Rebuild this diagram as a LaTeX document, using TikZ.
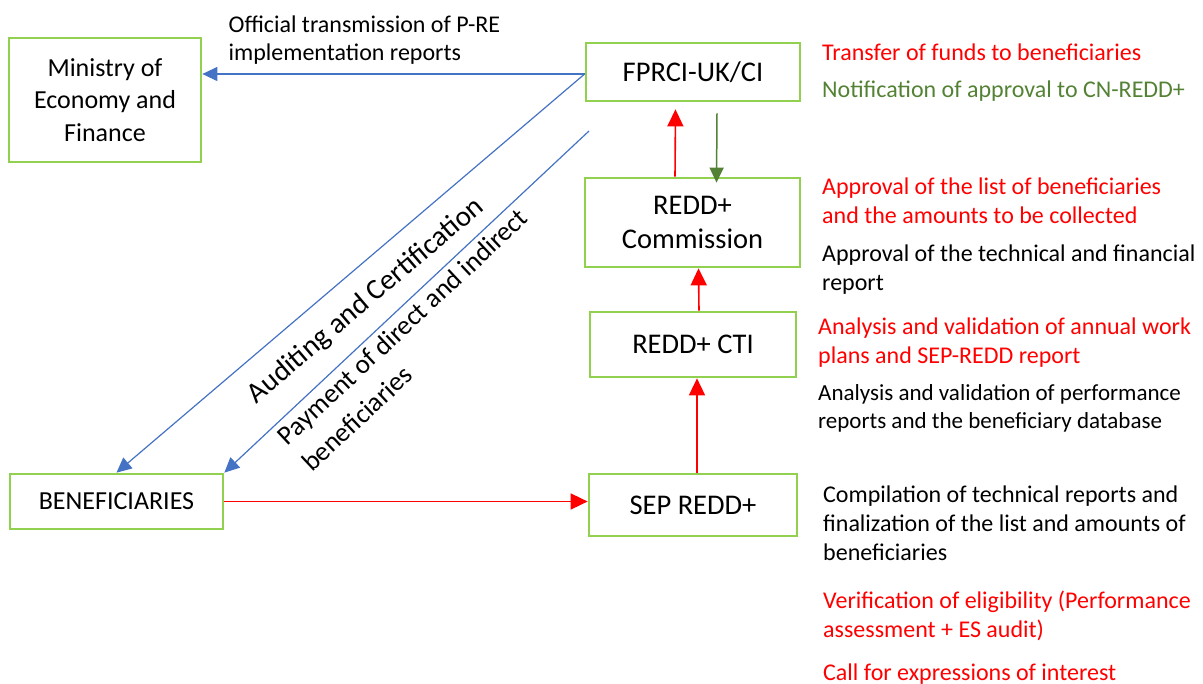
\documentclass[tikz,border=0pt]{standalone}
\usepackage{fontspec}
\setmainfont{Carlito}
\usepackage{tikz}
\usetikzlibrary{arrows.meta,positioning}
\definecolor{boxgreen}{RGB}{146,208,80}
\definecolor{flowblue}{RGB}{68,114,196}
\definecolor{okgreen}{RGB}{84,130,53}

\begin{document}
\begin{tikzpicture}[x=1pt,y=-1pt,
  every node/.style={inner sep=0pt},
  >={Triangle[length=15pt,width=14pt]},
  actor/.style={draw=boxgreen,line width=2.7pt,align=center,
    font=\fontsize{28.5}{34}\selectfont},
  smaller/.style={font=\fontsize{26}{32.5}\selectfont},
  task/.style={anchor=north west,align=left,
    font=\fontsize{24}{29}\selectfont},
  blueflow/.style={->,draw=flowblue,line width=1.2pt},
  redflow/.style={-{Triangle[length=17pt,width=16pt]},draw=red,line width=1.6pt},
  greenflow/.style={->,draw=okgreen,line width=1.5pt}
  ]
  \useasboundingbox (0,0) rectangle (1203,684);

  % actors
  \node[actor,smaller,minimum width=192pt,minimum height=124pt] (mef) at (105,100) {Ministry of\\Economy and\\Finance};
  \node[actor,minimum width=214pt,minimum height=58pt] (fprci) at (693,72) {FPRCI-UK/CI};
  \node[actor,minimum width=215pt,minimum height=89pt] (comm) at (692.5,222.5) {REDD+\\Commission};
  \node[actor,minimum width=206pt,minimum height=65pt] (cti) at (693,344.5) {REDD+ CTI};
  \node[actor,minimum width=208pt,minimum height=62pt] (sep) at (693,505) {SEP REDD+};
  \node[actor,smaller,minimum width=213pt,minimum height=55pt] (benef) at (116.5,501.5) {BENEFICIARIES};

  % tasks
  \node[task,red] (funds) at (822,44) {Transfer of funds to beneficiaries};
  \node[task,okgreen] (notice) at (822,81) {Notification of approval to CN-REDD+};
  \node[task,red] (approvelist) at (822,178) {Approval of the list of beneficiaries\\and the amounts to be collected};
  \node[task] (approvereport) at (822,245) {Approval of the technical and financial\\report};
  \node[task,red] (analysisplans) at (818,318) {Analysis and validation of annual work\\plans and SEP-REDD report};
  \node[task,font=\fontsize{23}{28}\selectfont] (analysisperf) at (818,384) {Analysis and validation of performance\\reports and the beneficiary database};
  \node[task] (compile) at (823,486) {Compilation of technical reports and\\finalization of the list and amounts of\\beneficiaries};
  \node[task,red] (verify) at (823,591) {Verification of eligibility (Performance\\assessment + ES audit)};
  \node[task,red] (call) at (823,664) {Call for expressions of interest};

  % flows
  \coordinate (tx) at ([yshift=-2]fprci.west);
  \coordinate (pay) at (589,131);
  \draw[blueflow] (tx) -- node[pos=0.576,above=9pt,align=left,font=\fontsize{24}{28}\selectfont] (txlabel) {Official transmission of P-RE\\implementation reports} (tx -| mef.east);
  \draw[blueflow] (tx) -- node[pos=0.51,sloped,below=18pt,font=\fontsize{29}{34}\selectfont] (auditlabel) {Auditing and Certification} (benef.north);
  \draw[blueflow] (pay) -- node[pos=0.54,sloped,below=5pt,align=left,font=\fontsize{27}{36}\selectfont] (paylabel) {Payment of direct and indirect\\beneficiaries} (benef.north east);
  \draw[redflow] (benef.east) -- (benef.east -| sep.west);
  \draw[redflow] ([xshift=4]sep.north) -- ([xshift=4]cti.south);
  \draw[redflow] ([xshift=6]cti.north) -- ([xshift=6]comm.south);
  \draw[redflow] ([xshift=-17.5]comm.north) -- ([xshift=-17.5,yshift=-7]fprci.south);
  \draw[greenflow] ([xshift=24,yshift=-11]fprci.south) -- ([xshift=24,yshift=-6]comm.north);
\end{tikzpicture}
\end{document}
